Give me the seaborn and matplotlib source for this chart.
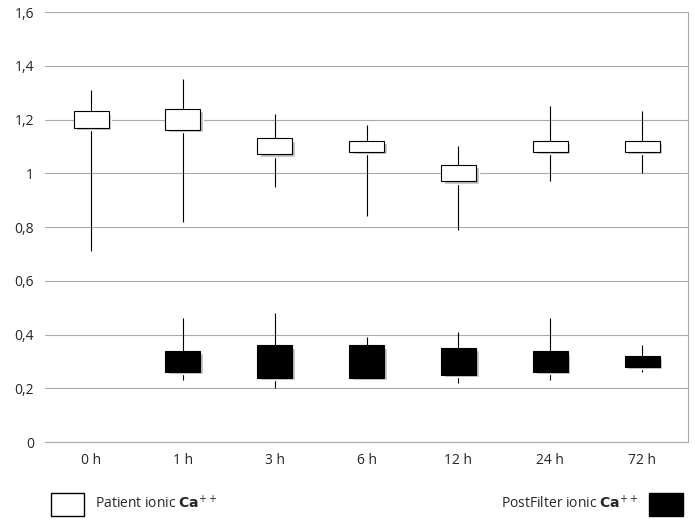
import matplotlib
matplotlib.use("Agg")
import matplotlib.pyplot as plt
import seaborn as sns
import numpy as np
from matplotlib.patches import Patch

cats = ["0 h", "1 h", "3 h", "6 h", "12 h", "24 h", "72 h"]
pat_q3 = [1.23, 1.24, 1.13, 1.12, 1.03, 1.12, 1.12]
pat_q1 = [1.17, 1.16, 1.07, 1.08, 0.97, 1.08, 1.08]
pat_hi = [1.31, 1.35, 1.22, 1.18, 1.10, 1.25, 1.23]
pat_lo = [0.71, 0.82, 0.95, 0.84, 0.79, 0.97, 1.00]
pf_cats = ["1 h", "3 h", "6 h", "12 h", "24 h", "72 h"]
pf_q3 = [0.34, 0.36, 0.36, 0.35, 0.34, 0.32]
pf_q1 = [0.26, 0.24, 0.24, 0.25, 0.26, 0.28]
pf_hi = [0.46, 0.48, 0.39, 0.41, 0.46, 0.36]
pf_lo = [0.23, 0.20, 0.23, 0.22, 0.23, 0.26]

sns.set_style("white")
plt.rcParams['font.family'] = ['Open Sans', 'DejaVu Sans']
fig = plt.figure(figsize=(6.95, 5.22), dpi=100)
ax = fig.add_axes([0.065, 0.153, 0.925, 0.824])

x = np.arange(len(cats))
px = np.array([cats.index(c) for c in pf_cats])
w = 0.38
ax.vlines(x, pat_lo, pat_hi, color="black", lw=0.8, zorder=2)
ax.vlines(px, pf_lo, pf_hi, color="black", lw=0.8, zorder=2)
ax.bar(x + 0.03, np.array(pat_q3) - pat_q1, bottom=np.array(pat_q1) - 0.008, width=w, color="#bbbbbb", zorder=2.5)
ax.bar(px + 0.03, np.array(pf_q3) - pf_q1, bottom=np.array(pf_q1) - 0.008, width=w, color="#bbbbbb", zorder=2.5)
ax.bar(x, np.array(pat_q3) - pat_q1, bottom=pat_q1, width=w, color="white", edgecolor="black", lw=0.8, zorder=3)
ax.bar(px, np.array(pf_q3) - pf_q1, bottom=pf_q1, width=w, color="black", edgecolor="black", lw=0.8, zorder=3)

ticks = np.arange(0, 1.61, 0.2)
ax.set_xlim(-0.5, len(cats) - 0.5)
ax.set_ylim(0, 1.6)
ax.set_yticks(ticks)
ax.set_yticklabels(["0", "0,2", "0,4", "0,6", "0,8", "1", "1,2", "1,4", "1,6"])
ax.set_xticks(x)
ax.set_xticklabels(cats)
ax.yaxis.grid(True, color="#aaaaaa", lw=0.8)
ax.set_axisbelow(True)
for s in ["top", "left"]:
    ax.spines[s].set_visible(False)
ax.spines["right"].set_color("#aaaaaa")
ax.spines["bottom"].set_color("#aaaaaa")
ax.tick_params(labelsize=10, length=0, pad=8)

fig.legend(handles=[Patch(facecolor="white", edgecolor="black", label=r"Patient ionic $\mathbf{Ca}^{++}$")],
           loc="lower left", bbox_to_anchor=(0.055, -0.012), frameon=False, fontsize=10,
           handlelength=2.4, handleheight=2.2)
fig.legend(handles=[Patch(facecolor="black", edgecolor="black", label=r"PostFilter ionic $\mathbf{Ca}^{++}$")],
           loc="lower right", bbox_to_anchor=(1.0, -0.012), frameon=False, fontsize=10,
           handlelength=2.4, handleheight=2.2, markerfirst=False)
fig.savefig("out.png", dpi=100)
